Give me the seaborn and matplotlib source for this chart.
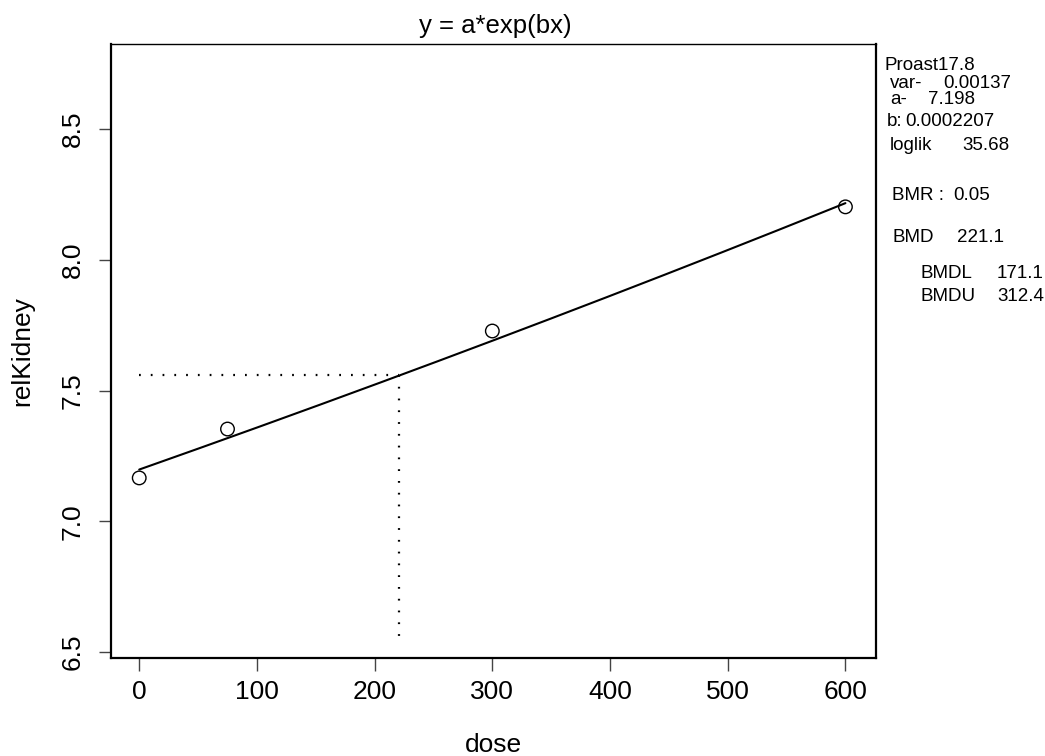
import numpy as np
import pandas as pd
import matplotlib
matplotlib.use("Agg")
import matplotlib.pyplot as plt
import seaborn as sns

# observed group means
dose = [0, 75, 300, 600]
rel_kidney = [7.166, 7.353, 7.728, 8.203]

# fitted model y = a*exp(bx)
par_a = 7.198
par_b = 0.0002207
var_est = 0.00137
loglik = 35.68
bmr = 0.05
bmd = 221.1
bmdl = 171.1
bmdu = 312.4
bmd_floor = 6.56

x_ticks = [0, 100, 200, 300, 400, 500, 600]
y_ticks = [6.5, 7.0, 7.5, 8.0, 8.5]

sns.set_style("white")
plt.rcParams["font.family"] = ["Liberation Sans", "DejaVu Sans"]
plt.rcParams["text.color"] = "black"
plt.rcParams["axes.labelcolor"] = "black"
plt.rcParams["xtick.color"] = "black"
plt.rcParams["ytick.color"] = "black"

fig = plt.figure(figsize=(10.45, 7.56), dpi=100)
ax = fig.add_axes([0.1062, 0.1296, 0.7321, 0.8122])

obs = pd.DataFrame({"dose": dose, "relKidney": rel_kidney})
sns.scatterplot(data=obs, x="dose", y="relKidney", ax=ax, marker="o", s=95,
                facecolor="none", edgecolor="black", linewidth=1.0, zorder=3)

xs = np.linspace(0, max(dose), 200)
fit = pd.DataFrame({"dose": xs, "relKidney": par_a * np.exp(par_b * xs)})
sns.lineplot(data=fit, x="dose", y="relKidney", ax=ax, color="black", linewidth=1.5)

# benchmark response level and benchmark dose
y_bmd = par_a * (1 + bmr)
ax.plot([0, bmd], [y_bmd, y_bmd], color="black", linewidth=1.6, linestyle=(0, (0.8, 4.5)))
ax.plot([bmd, bmd], [y_bmd, bmd_floor], color="black", linewidth=1.6, linestyle=(0, (0.8, 4.5)))

ax.set_xlim(-24, 626)
ax.set_ylim(6.477, 8.826)
ax.set_xticks(x_ticks)
ax.set_xticklabels([str(t) for t in x_ticks])
ax.set_yticks(y_ticks)
ax.set_yticklabels([f"{t:.1f}" for t in y_ticks], rotation=90, va="center")

ax.tick_params(axis="both", direction="out", length=9, width=1.0, color="#444444",
               labelsize=19, labelcolor="black")
ax.tick_params(axis="x", pad=7)
ax.tick_params(axis="y", pad=10)
ax.tick_params(top=False, right=False, bottom=True, left=True)

for side in ["left", "right", "bottom"]:
    ax.spines[side].set_linewidth(1.6)
    ax.spines[side].set_color("black")
ax.spines["top"].set_linewidth(1.0)
ax.spines["top"].set_color("black")

ax.set_xlabel("dose", fontsize=19, color="black")
ax.set_ylabel("relKidney", fontsize=19, color="black")
ax.xaxis.set_label_coords(0.5, -0.142)
ax.yaxis.set_label_coords(-0.1163, 0.5)
ax.xaxis.label.set_va("center")
ax.yaxis.label.set_va("center")

fig.text(0.4737, 1 - 26 / 756, "y = a*exp(bx)", ha="center", va="center",
         fontsize=18.5, color="black")

# parameter summary beside the plot
W, H = 1045.0, 756.0
def side_text(px, py, s):
    fig.text(px / W, 1 - py / H, s, ha="left", va="center", fontsize=13.5, color="black")

side_text(885, 65, "Proast17.8")
side_text(890, 83, "var-")
side_text(943, 83, f"{var_est}")
side_text(890, 100, "a-")
side_text(928, 100, f"{par_a}")
side_text(887, 122, "b:")
side_text(905, 122, f"{par_b}")
side_text(890, 145, "loglik")
side_text(962, 145, f"{loglik}")
side_text(892, 195, "BMR :")
side_text(953, 195, f"{bmr}")
side_text(893, 238, "BMD")
side_text(957, 238, f"{bmd}")
side_text(920, 273, "BMDL")
side_text(997, 273, f"{bmdl}")
side_text(920, 297, "BMDU")
side_text(997, 297, f"{bmdu}")

fig.savefig("out.png", dpi=100)
